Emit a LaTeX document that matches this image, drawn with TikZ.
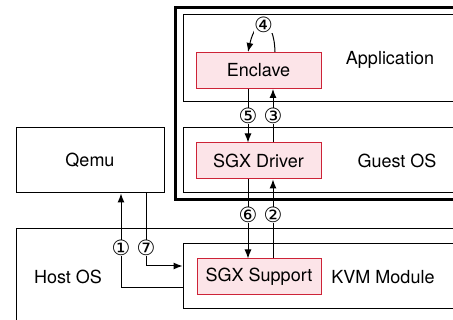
\documentclass[tikz,border=0pt]{standalone}
\usepackage{fontspec}
\setmainfont{TeX Gyre Heros}
\newfontfamily\numfont{DejaVu Sans}
\usetikzlibrary{arrows.meta}
\definecolor{sgxfill}{RGB}{252,228,232}
\definecolor{sgxline}{RGB}{205,35,55}
\begin{document}
\begin{tikzpicture}[
    x=1pt, y=-1pt,
    >={Latex[length=9pt,width=7pt]},
    layer/.style={draw, line width=1pt, minimum width=287pt, minimum height=65pt, inner sep=0pt},
    sgx/.style={draw=sgxline, fill=sgxfill, text=black, line width=1pt, minimum width=125pt, minimum height=36pt, inner sep=0pt, font=\fontsize{18}{21}\selectfont},
    txt/.style={font=\fontsize{18}{21}\selectfont},
    num/.style={fill=white, inner sep=0.3pt, font=\numfont\fontsize{21}{23}\selectfont},
    flow/.style={->, line width=1pt},
]
\clip (0,0) rectangle (453,320);
\useasboundingbox (0,0) rectangle (453,320);

% guest VM frame
\node[draw, line width=3pt, minimum width=315pt, minimum height=192pt] (vm) at (332.5,104) {};
\node[layer, minimum height=87pt] (app) at (326.5,58.5) {};
\node[layer] (guest) at (326.5,160.5) {};
\node[sgx] (enc) at (258.5,70.5) {Enclave};
\node[sgx] (drv) at (258.5,161) {SGX Driver};
\node[txt] (apptxt) at (390,60) {Application};
\node[txt] (guesttxt) at (397,161) {Guest OS};

% host side
\node[layer, minimum width=148pt, txt] (qemu) at (90,160.5) {Qemu};
\node[layer, minimum width=464pt, minimum height=111pt] (host) at (248,284.5) {};
\node[layer] (kvm) at (326.5,276.5) {};
\node[sgx, minimum width=124pt] (sup) at (259,277) {SGX Support};
\node[txt] (hosttxt) at (68,277) {Host OS};
\node[txt] (kvmtxt) at (383,277) {KVM Module};

\draw[flow] ([yshift=-11.5pt]kvm.west) -| node[num, pos=0.71]{①} ([xshift=31pt]qemu.south);
\draw[flow] ([xshift=14pt]sup.north) -- node[num, pos=0.55]{②} ([xshift=14.5pt]drv.south);
\draw[flow] ([xshift=14.5pt]drv.north) -- node[num]{③} ([xshift=14.5pt]enc.south);
\draw[flow] ([xshift=16.5pt]enc.north) .. controls +(-1,-36) and +(8,-36) .. node[num, pos=0.52]{④} ([xshift=-10.5pt]enc.north);
\draw[flow] ([xshift=-10.5pt]enc.south) -- node[num]{⑤} ([xshift=-10.5pt]drv.north);
\draw[flow] ([xshift=-10.5pt]drv.south) -- node[num, pos=0.45]{⑥} ([xshift=-11pt]sup.north);
\draw[flow] ([xshift=56pt]qemu.south) |- node[num, pos=0.377]{⑦} ([yshift=10.5pt]kvm.west);
\end{tikzpicture}
\end{document}
